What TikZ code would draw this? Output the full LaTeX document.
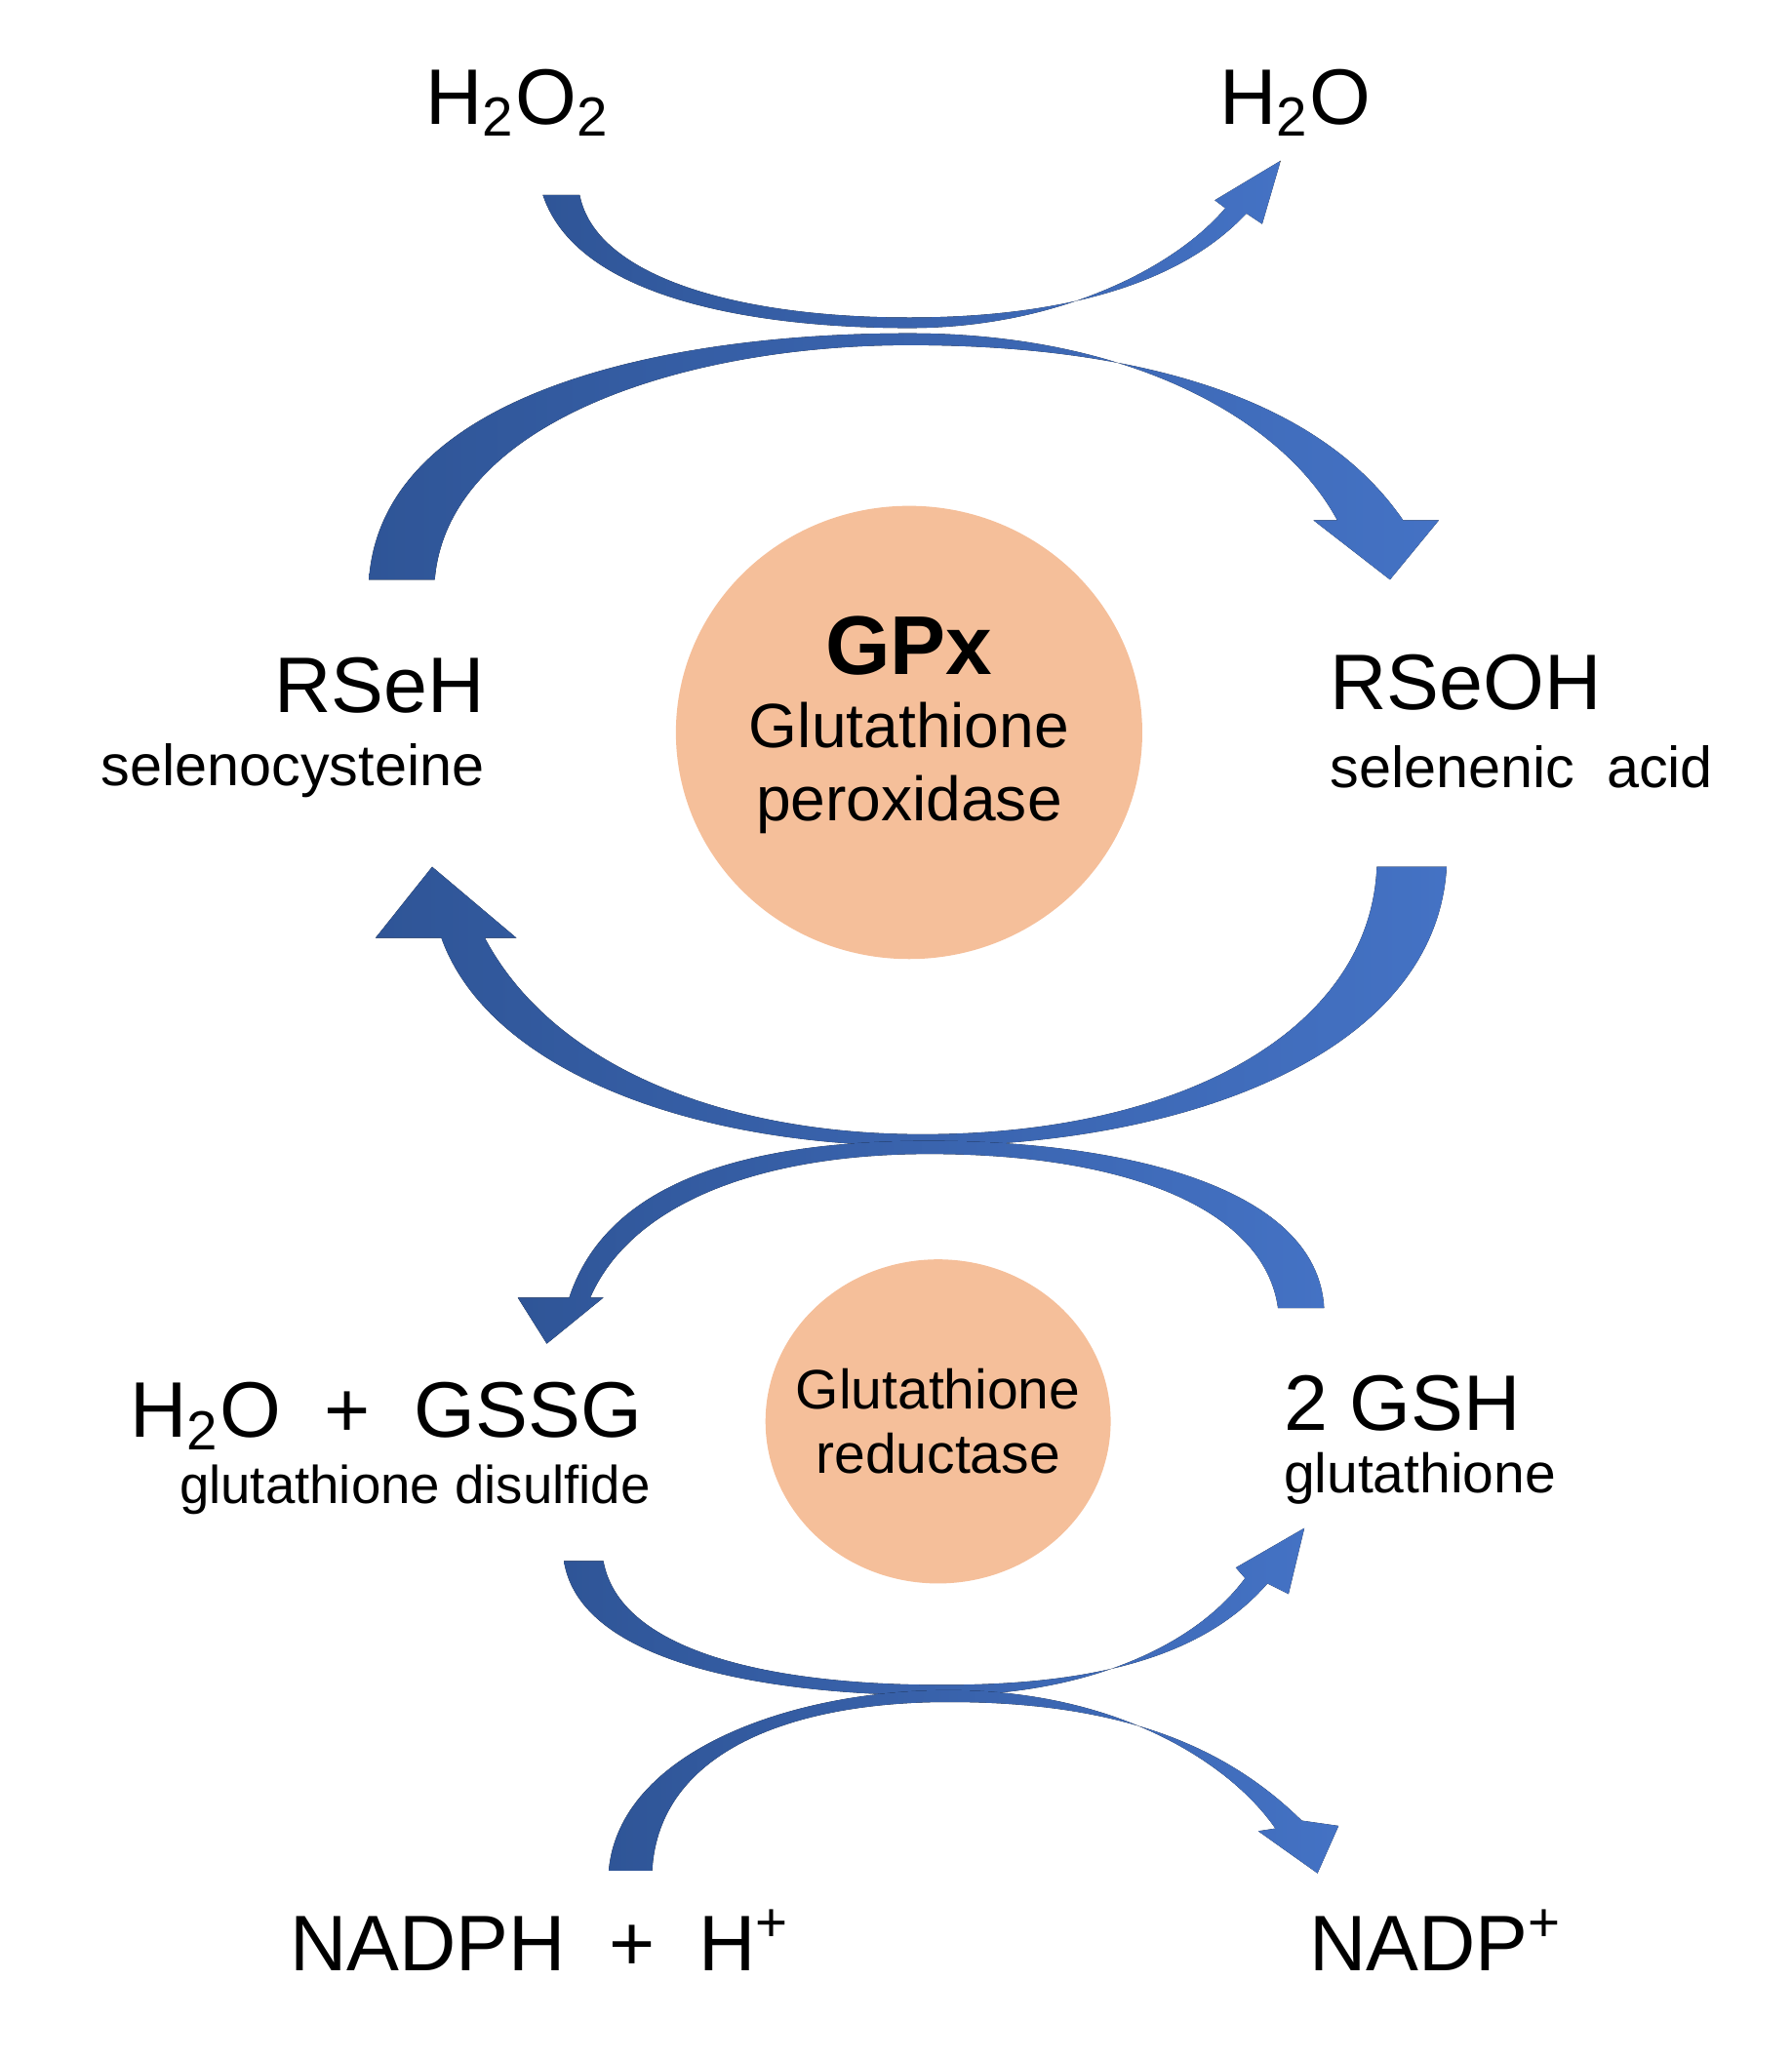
\documentclass[tikz,border=0pt]{standalone}
\usepackage{fontspec}
\setmainfont{Liberation Sans}
\definecolor{arrowblue}{HTML}{4472C4}
\definecolor{arrowdark}{HTML}{2F5597}
\definecolor{enzyme}{HTML}{F5BF9A}
\tikzset{
	ribbon/.style={left color=arrowdark,right color=arrowblue,draw=none},
	big/.style={font=\fontsize{17}{19}\selectfont},
	small/.style={font=\fontsize{12.5}{14}\selectfont},
}
\begin{document}
\begin{tikzpicture}[x=0.01cm,y=-0.01cm]
		\useasboundingbox (0,0) rectangle (1360,1563);
%		\draw[help lines] (0,0) grid[step=100] (1360,1563);

		% enzymes
		\fill[enzyme] (690,556) ellipse [x radius=177,y radius=172];
		\fill[enzyme] (712,1079) ellipse [x radius=131,y radius=123];

		% top: H2O2 -> H2O
		\fill[ribbon] (412,148) .. controls (440,232) and (590,249) .. (690,249)
			.. controls (800,249) and (890,205) .. (930,158) -- (922,152) -- (972,122)
			-- (958,170) -- (946,162) .. controls (890,222) and (790,241) .. (690,241)
			.. controls (560,241) and (452,210) .. (440,148) -- cycle;
		% RSeH -> RSeOH
		\fill[ribbon] (280,440) .. controls (290,300) and (500,253) .. (690,253)
			.. controls (860,253) and (975,320) .. (1015,395) -- (997,395) -- (1055,440)
			-- (1092,395) -- (1065,395) .. controls (1000,300) and (860,262) .. (690,262)
			.. controls (520,262) and (340,320) .. (330,440) -- cycle;
		% RSeOH -> RSeH
		\fill[ribbon] (1098,658) .. controls (1090,800) and (900,870) .. (700,870)
			.. controls (520,870) and (370,810) .. (335,712) -- (285,712) -- (328,658)
			-- (392,712) -- (368,712) .. controls (420,810) and (550,861) .. (700,861)
			.. controls (900,861) and (1040,780) .. (1045,658) -- cycle;
		% GSH -> GSSG
		\fill[ribbon] (1005,993) .. controls (1000,900) and (850,866) .. (705,866)
			.. controls (560,866) and (460,900) .. (432,985) -- (393,985) -- (415,1020)
			-- (458,985) -- (448,985) .. controls (480,912) and (580,876) .. (705,876)
			.. controls (860,876) and (960,920) .. (970,993) -- cycle;
		% GSSG -> GSH
		\fill[ribbon] (428,1185) .. controls (440,1262) and (580,1287) .. (715,1287)
			.. controls (820,1287) and (905,1252) .. (945,1198) -- (938,1190) -- (990,1160)
			-- (978,1210) -- (962,1202) .. controls (910,1262) and (820,1279) .. (715,1279)
			.. controls (580,1279) and (470,1252) .. (458,1185) -- cycle;
		% NADPH -> NADP+
		\fill[ribbon] (462,1420) .. controls (470,1330) and (600,1283) .. (720,1283)
			.. controls (850,1283) and (935,1340) .. (968,1388) -- (955,1390) -- (1000,1422)
			-- (1016,1386) -- (988,1382) .. controls (930,1325) and (850,1292) .. (720,1292)
			.. controls (600,1292) and (500,1330) .. (495,1420) -- cycle;

		% labels
		\node[big] (h2o2) at (393,78) {H\textsubscript{2}O\textsubscript{2}};
		\node[big] (h2oTop) at (983,78) {H\textsubscript{2}O};
		\node[big,anchor=east] (rseh) at (380,520) {RSeH};
		\node[small,anchor=east] (selcys) at (380,585) {selenocysteine};
		\node[font=\fontsize{18}{20}\selectfont\bfseries] (gpx) at (690,490) {GPx};
		\node[font=\fontsize{13.5}{16}\selectfont,align=center] (gpxName) at (690,583) {Glutathione\\peroxidase};
		\node[big,anchor=west] (rseoh) at (997,518) {RSeOH};
		\node[small,anchor=west] (selacid) at (997,582) {selenenic\ \ acid};
		\node[big] (gssg) at (293,1075) {H\textsubscript{2}O\ \ +\ \ GSSG};
		\node[font=\fontsize{11.5}{13}\selectfont] (gssgName) at (315,1131) {glutathione disulfide};
		\node[font=\fontsize{12}{14}\selectfont,align=center] (grName) at (712,1079) {Glutathione\\reductase};
		\node[big,anchor=west] (gsh) at (962,1065) {2 GSH};
		\node[font=\fontsize{12}{14}\selectfont,anchor=west] (gshName) at (962,1122) {glutathione};
		\node[big] (nadph) at (410,1473) {NADPH\ \ +\ \ H\textsuperscript{+}};
		\node[big] (nadp) at (1090,1473) {NADP\textsuperscript{+}};
	\end{tikzpicture}
\end{document}
